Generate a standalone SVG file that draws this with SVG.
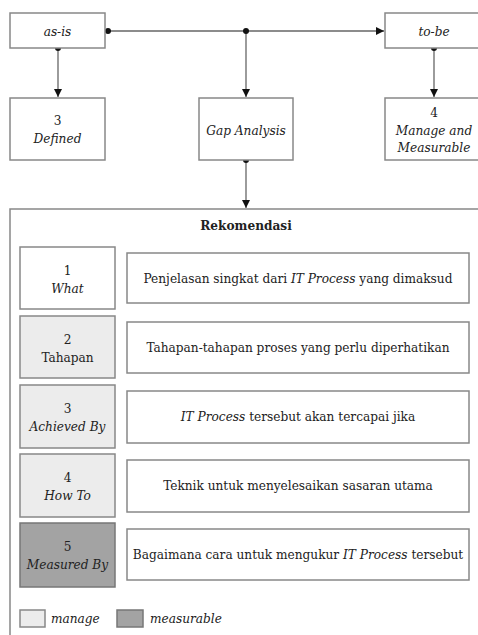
<svg xmlns="http://www.w3.org/2000/svg" width="478" height="635" viewBox="0 0 478 635" font-family="DejaVu Serif Condensed, DejaVu Serif, serif">
<defs>
<marker id="arr" viewBox="0 0 10 10" refX="10" refY="5" markerWidth="8" markerHeight="8" markerUnits="userSpaceOnUse" orient="auto"><path d="M0,0 L10,5 L0,10 Z" fill="#111"/></marker>
<style>
.box{fill:#fff;stroke:#888;stroke-width:1.5}
.man{fill:#ececec;stroke:#888;stroke-width:1.5}
.mea{fill:#a3a3a3;stroke:#777;stroke-width:1.5}
text{font-size:13.5px;fill:#222;text-anchor:middle}
.i{font-style:italic}
.b{font-weight:bold}
.l{text-anchor:start}
.c{stroke:#666;stroke-width:1.3;fill:none}
.d{fill:#111}
</style>
</defs>
<g id="connectors">
<line class="c" x1="108" y1="31" x2="384" y2="31" marker-end="url(#arr)"/>
<line class="c" x1="58" y1="48" x2="58" y2="97" marker-end="url(#arr)"/>
<line class="c" x1="246" y1="31" x2="246" y2="97" marker-end="url(#arr)"/>
<line class="c" x1="434" y1="48" x2="434" y2="97" marker-end="url(#arr)"/>
<line class="c" x1="246" y1="160" x2="246" y2="208" marker-end="url(#arr)"/>
<circle class="d" cx="108" cy="31" r="3"/>
<circle class="d" cx="58" cy="48" r="3"/>
<circle class="d" cx="246" cy="31" r="3"/>
<circle class="d" cx="434" cy="48" r="3"/>
<circle class="d" cx="246" cy="160" r="3"/>
</g>
<g id="as-is"><rect class="box" x="10" y="13" width="95" height="35"/><text class="i" x="57.5" y="36">as-is</text></g>
<g id="to-be"><rect class="box" x="385" y="13" width="100" height="35"/><text class="i" x="434" y="36">to-be</text></g>
<g id="defined"><rect class="box" x="10" y="98" width="95" height="62"/><text x="57.5" y="125">3</text><text class="i" x="57.5" y="143">Defined</text></g>
<g id="gap"><rect class="box" x="199" y="98" width="94" height="62"/><text class="i" x="246" y="135">Gap Analysis</text></g>
<g id="manage-measurable"><rect class="box" x="385" y="98" width="100" height="62"/><text x="434" y="117">4</text><text class="i" x="434" y="135">Manage and</text><text class="i" x="434" y="152">Measurable</text></g>
<g id="rekomendasi">
<rect class="box" x="10" y="209" width="480" height="440"/>
<text class="b" x="246" y="230">Rekomendasi</text>
</g>
<g id="what"><rect class="box" x="20" y="247" width="95" height="62"/><text x="67.5" y="275">1</text><text class="i" x="67.5" y="293">What</text></g>
<g id="what-desc"><rect class="box" x="127" y="253" width="342" height="50"/><text x="298" y="283">Penjelasan singkat dari <tspan class="i">IT Process</tspan> yang dimaksud</text></g>
<g id="tahapan"><rect class="man" x="20" y="316" width="95" height="62"/><text x="67.5" y="344">2</text><text x="67.5" y="362">Tahapan</text></g>
<g id="tahapan-desc"><rect class="box" x="127" y="322" width="342" height="51"/><text x="298" y="352">Tahapan-tahapan proses yang perlu diperhatikan</text></g>
<g id="achieved"><rect class="man" x="20" y="385" width="95" height="63"/><text x="67.5" y="413">3</text><text class="i" x="67.5" y="431">Achieved By</text></g>
<g id="achieved-desc"><rect class="box" x="127" y="391" width="342" height="52"/><text x="298" y="421"><tspan class="i">IT Process</tspan> tersebut akan tercapai jika</text></g>
<g id="howto"><rect class="man" x="20" y="454" width="95" height="63"/><text x="67.5" y="482">4</text><text class="i" x="67.5" y="500">How To</text></g>
<g id="howto-desc"><rect class="box" x="127" y="460" width="342" height="52"/><text x="298" y="490">Teknik untuk menyelesaikan sasaran utama</text></g>
<g id="measured"><rect class="mea" x="20" y="523" width="95" height="64"/><text x="67.5" y="551">5</text><text class="i" x="67.5" y="569">Measured By</text></g>
<g id="measured-desc"><rect class="box" x="127" y="529" width="342" height="51"/><text x="298" y="559">Bagaimana cara untuk mengukur <tspan class="i">IT Process</tspan> tersebut</text></g>
<g id="legend">
<rect class="man" x="20" y="610" width="25" height="17"/><text class="i l" x="51" y="623">manage</text>
<rect class="mea" x="117" y="610" width="26" height="17"/><text class="i l" x="150" y="623">measurable</text>
</g>
</svg>
